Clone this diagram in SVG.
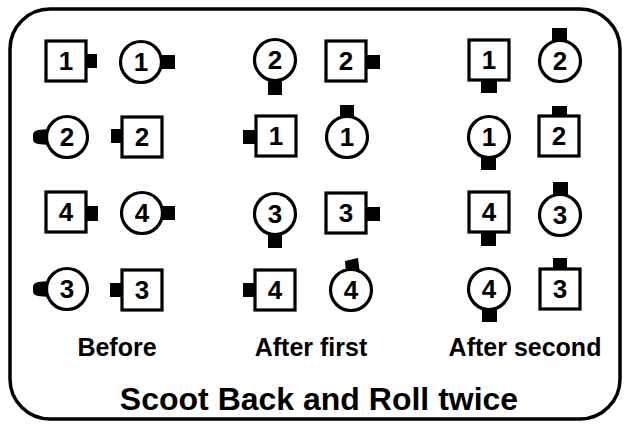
<svg xmlns="http://www.w3.org/2000/svg" width="630" height="428" viewBox="0 0 630 428">
<style>
.sq{fill:#fff;stroke:#000;stroke-width:3.2}
.ci{fill:#fff;stroke:#000;stroke-width:3.2}
.nub{fill:#000}
.d{font-family:"Liberation Sans",Arial,sans-serif;font-weight:bold;font-size:26px;text-anchor:middle;fill:#000}
.lbl{font-family:"Liberation Sans",Arial,sans-serif;font-weight:bold;font-size:25px;text-anchor:middle;fill:#000}
.ttl{font-family:"Liberation Sans",Arial,sans-serif;font-weight:bold;font-size:32px;text-anchor:middle;fill:#000}
</style>
<rect width="630" height="428" fill="#fff"/>
<rect x="10" y="9" width="610" height="410" rx="40" ry="40" fill="none" stroke="#000" stroke-width="3.5"/>

<!-- Before -->
<g id="b-sq1"><rect class="nub" x="84" y="54" width="13" height="14"/><rect class="sq" x="46" y="41" width="40" height="40"/><text class="d" x="66" y="70">1</text></g>
<g id="b-ci1"><rect class="nub" x="159" y="55" width="16" height="14"/><circle class="ci" cx="141" cy="62" r="20.5"/><text class="d" x="141" y="71">1</text></g>
<g id="b-ci2"><path class="nub" d="M49,129 L38,130 Q33,131 33,135 L33,139 Q33,143 38,144 L49,145 Z"/><circle class="ci" cx="67" cy="137" r="20.5"/><text class="d" x="67" y="146">2</text></g>
<g id="b-sq2"><rect class="nub" x="111" y="129" width="13" height="14"/><rect class="sq" x="122" y="117" width="40" height="40"/><text class="d" x="142" y="146">2</text></g>
<g id="b-sq4"><rect class="nub" x="84" y="206" width="14" height="15"/><rect class="sq" x="46" y="192" width="40" height="40"/><text class="d" x="66" y="221">4</text></g>
<g id="b-ci4"><rect class="nub" x="159" y="206" width="16" height="14"/><circle class="ci" cx="142" cy="213" r="20.5"/><text class="d" x="142" y="222">4</text></g>
<g id="b-ci3"><path class="nub" d="M49,281 L38,282 Q33,283 33,287 L33,291 Q33,295 38,296 L49,297 Z"/><circle class="ci" cx="67" cy="289" r="20.5"/><text class="d" x="67" y="298">3</text></g>
<g id="b-sq3"><rect class="nub" x="110" y="283" width="14" height="14"/><rect class="sq" x="122" y="270" width="40" height="40"/><text class="d" x="142" y="299">3</text></g>

<!-- After first -->
<g id="f-ci2"><rect class="nub" x="268" y="77" width="14" height="18"/><circle class="ci" cx="275" cy="60" r="20.5"/><text class="d" x="275" y="69">2</text></g>
<g id="f-sq2"><rect class="nub" x="364" y="55" width="16" height="14"/><rect class="sq" x="326" y="41" width="40" height="40"/><text class="d" x="346" y="70">2</text></g>
<g id="f-sq1"><rect class="nub" x="243" y="130" width="14" height="14"/><rect class="sq" x="256" y="116" width="40" height="40"/><text class="d" x="276" y="145">1</text></g>
<g id="f-ci1"><rect class="nub" x="340" y="105" width="14" height="15"/><circle class="ci" cx="347" cy="137" r="20.5"/><text class="d" x="347" y="146">1</text></g>
<g id="f-ci3"><rect class="nub" x="268" y="231" width="14" height="17"/><circle class="ci" cx="275" cy="214" r="20.5"/><text class="d" x="275" y="223">3</text></g>
<g id="f-sq3"><rect class="nub" x="364" y="207" width="16" height="14"/><rect class="sq" x="326" y="193" width="40" height="40"/><text class="d" x="346" y="222">3</text></g>
<g id="f-sq4"><rect class="nub" x="243" y="283" width="14" height="14"/><rect class="sq" x="255" y="270" width="40" height="40"/><text class="d" x="275" y="299">4</text></g>
<g id="f-ci4"><path class="nub" d="M345,261 L358,258 L360,274 L346,274 Z"/><circle class="ci" cx="351" cy="290" r="20.5"/><text class="d" x="351" y="299">4</text></g>

<!-- After second -->
<g id="s-sq1"><rect class="nub" x="481" y="78" width="16" height="15"/><rect class="sq" x="469" y="40" width="40" height="40"/><text class="d" x="489" y="69">1</text></g>
<g id="s-ci2"><rect class="nub" x="552" y="28" width="15" height="16"/><circle class="ci" cx="560" cy="61" r="20.5"/><text class="d" x="560" y="70">2</text></g>
<g id="s-ci1"><rect class="nub" x="481" y="154" width="15" height="16"/><circle class="ci" cx="489" cy="137" r="20.5"/><text class="d" x="489" y="146">1</text></g>
<g id="s-sq2"><rect class="nub" x="552" y="106" width="15" height="12"/><rect class="sq" x="539" y="116" width="40" height="40"/><text class="d" x="559" y="145">2</text></g>
<g id="s-sq4"><rect class="nub" x="481" y="230" width="15" height="16"/><rect class="sq" x="469" y="192" width="40" height="40"/><text class="d" x="489" y="221">4</text></g>
<g id="s-ci3"><rect class="nub" x="553" y="182" width="15" height="17"/><circle class="ci" cx="560" cy="215" r="20.5"/><text class="d" x="560" y="224">3</text></g>
<g id="s-ci4"><rect class="nub" x="482" y="306" width="15" height="16"/><circle class="ci" cx="489" cy="289" r="20.5"/><text class="d" x="489" y="298">4</text></g>
<g id="s-sq3"><rect class="nub" x="553" y="258" width="14" height="13"/><rect class="sq" x="540" y="269" width="40" height="40"/><text class="d" x="560" y="298">3</text></g>

<text class="lbl" x="117" y="356">Before</text>
<text class="lbl" x="311" y="356">After first</text>
<text class="lbl" x="525" y="356">After second</text>
<text class="ttl" x="319" y="410">Scoot Back and Roll twice</text>
</svg>
